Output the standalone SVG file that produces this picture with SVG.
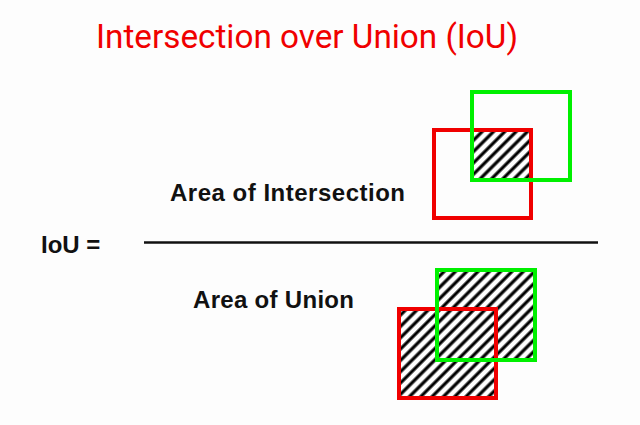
<svg xmlns="http://www.w3.org/2000/svg" width="640" height="425" viewBox="0 0 640 425">
  <style>
    .title { font-family: Roboto, "Liberation Sans", sans-serif; font-size: 33px; fill: #f00000; }
    .lbl { font-family: "Liberation Sans", Arial, sans-serif; font-weight: bold; font-size: 24px; fill: #111; }
    .red { fill: none; stroke: #f00000; stroke-width: 4; }
    .green { fill: none; stroke: #00f000; stroke-width: 4; }
    .hatch { fill: url(#stripes); stroke: none; }
  </style>
  <defs>
    <pattern id="stripes" patternUnits="userSpaceOnUse" width="8" height="8" patternTransform="rotate(45)">
      <rect x="0" y="0" width="8" height="8" fill="#fff"/>
      <line x1="2" y1="0" x2="2" y2="8" stroke="#000" stroke-width="3.2"/>
    </pattern>
  </defs>
  <rect x="0" y="0" width="640" height="425" fill="#fdfdfd"/>
  <g id="title">
    <text class="title" x="96" y="48" textLength="422" lengthAdjust="spacingAndGlyphs">Intersection over Union (IoU)</text>
  </g>
  <g id="iou-label">
    <text class="lbl" x="41" y="253">IoU =</text>
  </g>
  <g id="numerator">
    <text class="lbl" x="170" y="201" textLength="235">Area of Intersection</text>
  </g>
  <g id="denominator">
    <text class="lbl" x="193" y="308" textLength="161">Area of Union</text>
  </g>
  <g id="fraction-line">
    <line x1="144" y1="242.5" x2="598" y2="242.5" stroke="#111" stroke-width="2.6"/>
  </g>
  <g id="intersection-figure">
    <rect class="hatch" x="472" y="130" width="59" height="50"/>
    <rect class="red" x="434" y="130" width="97" height="88"/>
    <rect class="green" x="472" y="92" width="98" height="88"/>
  </g>
  <g id="union-figure">
    <rect class="hatch" x="437" y="270" width="98" height="90"/>
    <rect class="hatch" x="399" y="309" width="97" height="89"/>
    <rect class="red" x="399" y="309" width="97" height="89"/>
    <rect class="green" x="437" y="270" width="98" height="90"/>
  </g>
</svg>
